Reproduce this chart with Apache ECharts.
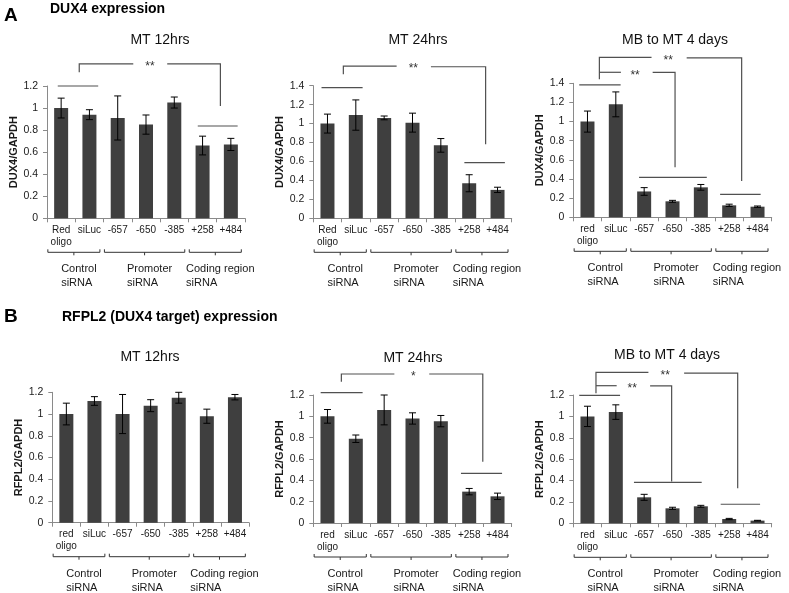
<!DOCTYPE html>
<html><head><meta charset="utf-8">
<script src="https://cdn.jsdelivr.net/npm/echarts@6/dist/echarts.min.js"></script>
<style>html,body{margin:0;padding:0;background:#fff}#c{width:789px;height:593px}</style>
</head><body><div id="c"></div>
<script>
// ---------- data ----------
const catsUpper = ['Red\noligo', 'siLuc', '-657', '-650', '-385', '+258', '+484'];
const catsLower = ['red\noligo', 'siLuc', '-657', '-650', '-385', '+258', '+484'];
const groupNames = ['Control\nsiRNA', 'Promoter\nsiRNA', 'Coding region\nsiRNA'];
const groupRanges = [[0, 1], [2, 4], [5, 6]];

const a1Values = [1.00, 0.94, 0.91, 0.85, 1.05, 0.66, 0.67];
const a1Errors = [0.09, 0.045, 0.20, 0.087, 0.05, 0.085, 0.055];
const a2Values = [1.00, 1.09, 1.06, 1.01, 0.77, 0.37, 0.30];
const a2Errors = [0.10, 0.16, 0.02, 0.10, 0.072, 0.09, 0.028];
const a3Values = [1.00, 1.18, 0.27, 0.167, 0.313, 0.125, 0.111];
const a3Errors = [0.11, 0.13, 0.04, 0.01, 0.03, 0.012, 0.007];
const b1Values = [1.00, 1.12, 1.00, 1.077, 1.15, 0.98, 1.155];
const b1Errors = [0.10, 0.04, 0.18, 0.055, 0.05, 0.065, 0.025];
const b2Values = [1.00, 0.79, 1.06, 0.98, 0.955, 0.294, 0.25];
const b2Errors = [0.064, 0.035, 0.14, 0.053, 0.053, 0.03, 0.03];
const b3Values = [1.00, 1.04, 0.243, 0.14, 0.159, 0.04, 0.025];
const b3Errors = [0.095, 0.068, 0.028, 0.01, 0.009, 0.006, 0.003];

// significance brackets in data units [category position, value]
const a1Lines = [[[-0.12, 1.2], [1.31, 1.2]], [[4.83, 0.837], [6.24, 0.837]],
  [[0.64, 1.324], [0.64, 1.40], [2.55, 1.40]], [[3.75, 1.40], [5.63, 1.40], [5.63, 1.018]]];
const a1Stars = [[3.14, 1.40, '**']];
const a2Lines = [[[-0.21, 1.379], [1.24, 1.379]], [[4.83, 0.587], [6.26, 0.587]],
  [[0.56, 1.52], [0.56, 1.607], [2.44, 1.607]], [[3.65, 1.60], [5.58, 1.60], [5.58, 0.781]]];
const a2Stars = [[3.03, 1.607, '**']];
const a3Lines = [[[-0.29, 1.383], [1.17, 1.383]], [[1.82, 0.418], [4.21, 0.418]], [[4.68, 0.24], [6.11, 0.24]],
  [[0.42, 1.442], [0.42, 1.67], [2.26, 1.67]], [[0.42, 1.515], [1.18, 1.515]],
  [[2.3, 1.515], [3.09, 1.515], [3.09, 0.522]], [[3.5, 1.665], [5.44, 1.665], [5.44, 0.38]]];
const a3Stars = [[1.68, 1.515, '**'], [2.85, 1.67, '**']];
const b1Lines = [];
const b1Stars = [];
const b2Lines = [[[-0.24, 1.222], [1.24, 1.222]], [[4.71, 0.466], [6.16, 0.466]],
  [[0.49, 1.325], [0.49, 1.397], [2.36, 1.397]], [[3.59, 1.397], [5.48, 1.397], [5.48, 0.575]]];
const b2Stars = [[3.03, 1.397, '*']];
const b3Lines = [[[-0.29, 1.197], [1.15, 1.197]], [[1.64, 0.383], [4.03, 0.383]], [[4.7, 0.178], [6.09, 0.178]],
  [[0.3, 1.216], [0.3, 1.412], [2.15, 1.412]], [[0.3, 1.287], [1.03, 1.287]],
  [[2.21, 1.285], [2.97, 1.285], [2.97, 0.39]], [[3.41, 1.405], [5.3, 1.405], [5.3, 0.327]]];
const b3Stars = [[1.58, 1.287, '**'], [2.74, 1.412, '**']];

const panelTitles = ['MT 12hrs', 'MT 24hrs', 'MB to MT 4 days', 'MT 12hrs', 'MT 24hrs', 'MB to MT 4 days'];
const yNames = ['DUX4/GAPDH', 'DUX4/GAPDH', 'DUX4/GAPDH', 'RFPL2/GAPDH', 'RFPL2/GAPDH', 'RFPL2/GAPDH'];
const yMaxes = [1.2, 1.4, 1.4, 1.2, 1.2, 1.2];

// ---------- layout ----------
const FONT = '"Liberation Sans", Arial, sans-serif';
const layout = [
  {left: 47, top: 86, width: 198, height: 132.3, gap: 27, tx: 160, ty: 40.5},
  {left: 313.3, top: 85.7, width: 198.4, height: 132.6, gap: 24, tx: 418, ty: 40},
  {left: 573.3, top: 83.3, width: 198.4, height: 134, gap: 25, tx: 675, ty: 40},
  {left: 52.3, top: 392.3, width: 196.7, height: 130.4, gap: 26, tx: 150, ty: 357},
  {left: 313.3, top: 395, width: 198.4, height: 128, gap: 24, tx: 413, ty: 358},
  {left: 573.3, top: 395, width: 198.4, height: 128.3, gap: 25, tx: 667, ty: 355}
];
const panels = [
  {cats: catsUpper, values: a1Values, errors: a1Errors, lines: a1Lines, stars: a1Stars},
  {cats: catsUpper, values: a2Values, errors: a2Errors, lines: a2Lines, stars: a2Stars},
  {cats: catsLower, values: a3Values, errors: a3Errors, lines: a3Lines, stars: a3Stars},
  {cats: catsLower, values: b1Values, errors: b1Errors, lines: b1Lines, stars: b1Stars},
  {cats: catsLower, values: b2Values, errors: b2Errors, lines: b2Lines, stars: b2Stars},
  {cats: catsLower, values: b3Values, errors: b3Errors, lines: b3Lines, stars: b3Stars}
];

const measureCtx = document.createElement('canvas').getContext('2d');
function textWidth(t, size) {
  measureCtx.font = size + 'px ' + FONT;
  return Math.max.apply(null, t.split('\n').map(s => measureCtx.measureText(s).width));
}

function annotRender(lines, stars) {
  return function (params, api) {
    const ch = [];
    lines.forEach(pl => {
      ch.push({type: 'polyline', shape: {points: pl.map(q => api.coord(q))},
        style: {stroke: '#505050', lineWidth: 1.2, fill: 'none'}});
    });
    stars.forEach(s => {
      const c = api.coord([s[0], s[1]]);
      ch.push({type: 'text', x: c[0], y: c[1] + 3,
        style: {text: s[2], align: 'center', verticalAlign: 'middle', fontSize: 12, fontFamily: FONT, fill: '#333'}});
    });
    const y0 = api.coord([0, 0])[1];
    groupRanges.forEach((g, k) => {
      const xa = api.coord([g[0] - 0.47, 0])[0], xb = api.coord([g[1] + 0.37, 0])[0];
      const xm = (xa + xb) / 2, yb = y0 + 34;
      ch.push({type: 'polyline', shape: {points: [[xa, yb - 3], [xa, yb], [xb, yb], [xb, yb - 3]]},
        style: {stroke: '#333', lineWidth: 1, fill: 'none'}});
      ch.push({type: 'line', shape: {x1: xm, y1: yb, x2: xm, y2: yb + 3}, style: {stroke: '#333', lineWidth: 1}});
      const w = textWidth(groupNames[k], 11);
      ch.push({type: 'text', x: xm + 5 - w / 2, y: y0 + 44,
        style: {text: groupNames[k], align: 'left', verticalAlign: 'top', fontSize: 11, lineHeight: 14,
          fontFamily: FONT, fill: '#1a1a1a'}});
    });
    return {type: 'group', children: ch};
  };
}

function errRender(params, api) {
  const x = api.value(0);
  const lo = api.coord([x, api.value(1)]), hi = api.coord([x, api.value(2)]);
  const hw = 3.5, st = {stroke: '#000', lineWidth: 1};
  return {type: 'group', children: [
    {type: 'line', shape: {x1: lo[0], y1: lo[1], x2: hi[0], y2: hi[1]}, style: st},
    {type: 'line', shape: {x1: lo[0] - hw, y1: lo[1], x2: lo[0] + hw, y2: lo[1]}, style: st},
    {type: 'line', shape: {x1: hi[0] - hw, y1: hi[1], x2: hi[0] + hw, y2: hi[1]}, style: st}
  ]};
}

const grid = [], xAxis = [], yAxis = [], series = [], graphic = [];
panels.forEach((p, i) => {
  const L = layout[i];
  grid.push({left: L.left, top: L.top, width: L.width, height: L.height});
  xAxis.push({type: 'category', gridIndex: i, data: p.cats,
    axisLine: {onZero: false, lineStyle: {color: '#8a8a8a', width: 1}},
    axisTick: {show: true, length: 4, lineStyle: {color: '#8a8a8a'}},
    axisLabel: {interval: 0, fontSize: 10, lineHeight: 12, margin: 6, color: '#1a1a1a', fontFamily: FONT}});
  xAxis.push({type: 'value', gridIndex: i, min: -0.5, max: 6.5, show: false,
    axisLine: {onZero: false}});
  yAxis.push({type: 'value', gridIndex: i, min: 0, max: yMaxes[i], interval: 0.2,
    name: yNames[i], nameLocation: 'middle', nameGap: L.gap, nameRotate: 90,
    nameTextStyle: {fontSize: 11, fontWeight: 'bold', fontFamily: FONT, color: '#1a1a1a'},
    axisLine: {show: true, onZero: false, lineStyle: {color: '#8a8a8a', width: 1}},
    axisTick: {show: true, length: 4, lineStyle: {color: '#8a8a8a'}},
    splitLine: {show: false},
    axisLabel: {fontSize: 10.5, margin: 9, color: '#1a1a1a', fontFamily: FONT}});
  series.push({type: 'bar', xAxisIndex: 2 * i, yAxisIndex: i, data: p.values, barWidth: 14,
    itemStyle: {color: '#3f3f3f'}, silent: true});
  series.push({type: 'custom', xAxisIndex: 2 * i, yAxisIndex: i, renderItem: errRender, silent: true, z: 3,
    encode: {x: 0, y: [1, 2]},
    data: p.values.map((v, j) => [j, v - p.errors[j], v + p.errors[j]])});
  series.push({type: 'custom', xAxisIndex: 2 * i + 1, yAxisIndex: i, renderItem: annotRender(p.lines, p.stars),
    silent: true, z: 4, encode: {x: 0, y: 1}, data: [[0, 0]]});
  graphic.push({type: 'text', x: L.tx, y: L.ty,
    style: {text: panelTitles[i], align: 'center', verticalAlign: 'middle', fontSize: 14, fontFamily: FONT, fill: '#111'}});
});
graphic.push({type: 'text', x: 4, y: 16, style: {text: 'A', verticalAlign: 'middle', fontSize: 19, fontWeight: 'bold', fontFamily: FONT, fill: '#000'}});
graphic.push({type: 'text', x: 50, y: 9, style: {text: 'DUX4 expression', verticalAlign: 'middle', fontSize: 14, fontWeight: 'bold', fontFamily: FONT, fill: '#000'}});
graphic.push({type: 'text', x: 4, y: 317, style: {text: 'B', verticalAlign: 'middle', fontSize: 19, fontWeight: 'bold', fontFamily: FONT, fill: '#000'}});
graphic.push({type: 'text', x: 62, y: 317, style: {text: 'RFPL2 (DUX4 target) expression', verticalAlign: 'middle', fontSize: 14, fontWeight: 'bold', fontFamily: FONT, fill: '#000'}});

const chart = echarts.init(document.getElementById('c'), null, {renderer: 'canvas'});
chart.setOption({animation: false, backgroundColor: '#fff', textStyle: {fontFamily: FONT},
  grid, xAxis, yAxis, series, graphic});
</script></body></html>
